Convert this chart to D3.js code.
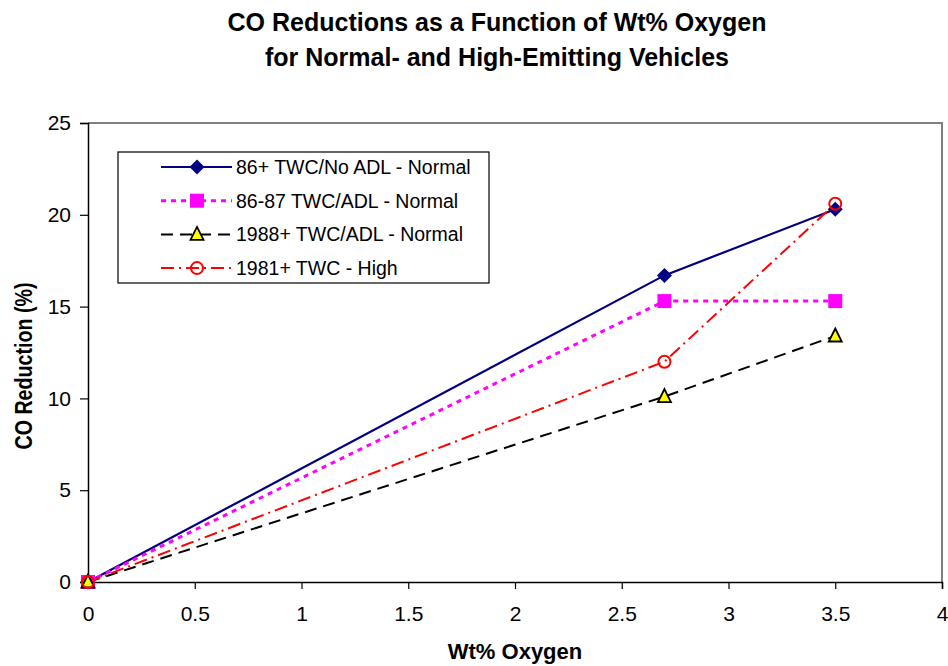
<!DOCTYPE html>
<html>
<head>
<meta charset="utf-8">
<script src="https://cdn.jsdelivr.net/npm/d3@7"></script>
<style>
  body { margin: 0; background: #fff; }
  text { font-family: "Liberation Sans", Arial, sans-serif; }
</style>
</head>
<body>
<div id="chart"></div>
<script>
// data
const xVals = [0, 2.7, 3.5];
const noAdlNormal = [0, 16.7, 20.3];
const adl8687Normal = [0, 15.3, 15.3];
const adl1988Normal = [0, 10.1, 13.4];
const twc1981High = [0, 12.0, 20.6];
const seriesNames = ['86+ TWC/No ADL - Normal', '86-87 TWC/ADL - Normal', '1988+ TWC/ADL - Normal', '1981+ TWC - High'];
const xTicks = [0, 0.5, 1, 1.5, 2, 2.5, 3, 3.5, 4];
const yTicks = [0, 5, 10, 15, 20, 25];

const width = 948;
const height = 666;
const margin = {top: 123, left: 88, bottom: 84, right: 6};

const series = [
  {name: seriesNames[0], values: noAdlNormal, color: '#000080', dash: null, sw: 2.2, marker: 'diamond'},
  {name: seriesNames[1], values: adl8687Normal, color: '#ff00ff', dash: '5,5', sw: 3, marker: 'square'},
  {name: seriesNames[2], values: adl1988Normal, color: '#000000', dash: '12,7', sw: 2, marker: 'triangle'},
  {name: seriesNames[3], values: twc1981High, color: '#ff0000', dash: '13,5,2,5', sw: 2, marker: 'circle'}
];

const x = d3.scaleLinear().domain([0, 4]).range([margin.left, width - margin.right]);
const y = d3.scaleLinear().domain([0, 25]).range([height - margin.bottom, margin.top]);

const svg = d3.select('#chart').append('svg')
  .attr('width', width).attr('height', height);

// plot frame (gray top/right)
svg.append('path')
  .attr('d', `M${x(0)},${y(25)}H${x(4)}V${y(0)}`)
  .attr('fill', 'none').attr('stroke', '#808080').attr('stroke-width', 2);

// axes
const xAxis = g => g
  .attr('transform', `translate(0,${y(0)})`)
  .call(d3.axisBottom(x).tickValues(xTicks).tickSize(7).tickPadding(17).tickFormat(d3.format('')))
  .call(g => g.select('.domain').attr('stroke', '#000').attr('stroke-width', 1.5));
const yAxis = g => g
  .attr('transform', `translate(${x(0)},0)`)
  .call(d3.axisLeft(y).tickValues(yTicks).tickSize(8).tickPadding(9))
  .call(g => g.select('.domain').attr('stroke', '#000').attr('stroke-width', 1.5));

svg.append('g').call(xAxis);
svg.append('g').call(yAxis);
svg.selectAll('.tick text').attr('font-size', 21).attr('fill', '#000')
  .style('font-family', '"Liberation Sans", Arial, sans-serif');
svg.selectAll('.tick line').attr('stroke', '#000').attr('stroke-width', 1.2);

// titles
const title = svg.append('text').attr('text-anchor', 'middle')
  .attr('font-size', 25).attr('font-weight', 'bold');
title.append('tspan').attr('x', 497).attr('y', 31).text('CO Reductions as a Function of Wt% Oxygen');
title.append('tspan').attr('x', 497).attr('y', 66).text('for Normal- and High-Emitting Vehicles');

svg.append('text').attr('x', x(2)).attr('y', 659).attr('text-anchor', 'middle')
  .attr('font-size', 22).attr('font-weight', 'bold').text('Wt% Oxygen');
svg.append('text').attr('transform', `translate(32,366) rotate(-90)`)
  .attr('text-anchor', 'middle').attr('font-size', 23).attr('font-weight', 'bold')
  .attr('textLength', 167).attr('lengthAdjust', 'spacingAndGlyphs')
  .text('CO Reduction (%)');

// markers
function drawMarker(g, type, color, cx, cy) {
  if (type === 'diamond') {
    g.append('path').attr('d', `M${cx},${cy - 7.5}L${cx + 7.5},${cy}L${cx},${cy + 7.5}L${cx - 7.5},${cy}Z`)
      .attr('fill', color);
  } else if (type === 'square') {
    g.append('rect').attr('x', cx - 7).attr('y', cy - 7).attr('width', 14).attr('height', 14)
      .attr('fill', color);
  } else if (type === 'triangle') {
    g.append('path').attr('d', `M${cx},${cy - 7.5}L${cx + 6.5},${cy + 5.5}L${cx - 6.5},${cy + 5.5}Z`)
      .attr('fill', '#ffff00').attr('stroke', '#000').attr('stroke-width', 1.8);
  } else {
    g.append('circle').attr('cx', cx).attr('cy', cy).attr('r', 6)
      .attr('fill', 'none').attr('stroke', color).attr('stroke-width', 2);
  }
}

const line = d3.line().x(d => x(d[0])).y(d => y(d[1]));

series.forEach(s => {
  const pts = xVals.map((v, i) => [v, s.values[i]]);
  svg.append('path').datum(pts)
    .attr('d', line).attr('fill', 'none')
    .attr('stroke', s.color).attr('stroke-width', s.sw)
    .attr('stroke-dasharray', s.dash);
});
series.forEach(s => {
  const g = svg.append('g');
  xVals.forEach((v, i) => drawMarker(g, s.marker, s.color, x(v), y(s.values[i])));
});

// legend
const legend = svg.append('g');
legend.append('rect').attr('x', 118).attr('y', 152).attr('width', 371).attr('height', 131)
  .attr('fill', '#fff').attr('stroke', '#000').attr('stroke-width', 1.2);
series.forEach((s, i) => {
  const ly = 167 + i * 33.7;
  legend.append('line').attr('x1', 161).attr('x2', 232).attr('y1', ly).attr('y2', ly)
    .attr('stroke', s.color).attr('stroke-width', s.sw).attr('stroke-dasharray', s.dash);
  drawMarker(legend, s.marker, s.color, 197, ly);
  legend.append('text').attr('x', 236).attr('y', ly + 7).attr('font-size', 19.5).text(s.name);
});
</script>
</body>
</html>
